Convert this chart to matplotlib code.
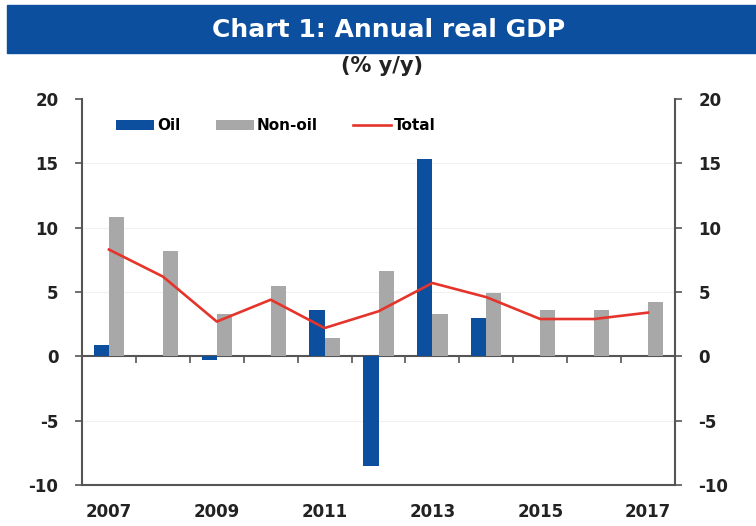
import numpy as np
import matplotlib
matplotlib.use("Agg")
import matplotlib.pyplot as plt
from matplotlib.patches import Rectangle

# data (% y/y)
years = [2007, 2008, 2009, 2010, 2011, 2012, 2013, 2014, 2015, 2016, 2017]
oil = [0.9, 0.0, -0.3, 0.0, 3.6, -8.5, 15.3, 3.0, 0.0, 0.0, 0.0]
non_oil = [10.8, 8.2, 3.3, 5.5, 1.4, 6.6, 3.3, 4.9, 3.6, 3.6, 4.2]
total = [8.3, 6.2, 2.7, 4.4, 2.2, 3.5, 5.7, 4.6, 2.9, 2.9, 3.4]
ylim = (-10, 20)
yticks = [-10, -5, 0, 5, 10, 15, 20]

BLUE = "#0b4f9e"
GREY = "#a8a8a8"
RED = "#e5342b"
TXT = "#222222"
SPINE = "#555555"

plt.rcParams["font.family"] = ["DejaVu Sans"]
plt.rcParams["font.weight"] = "bold"
plt.rcParams["axes.unicode_minus"] = False

fig = plt.figure(figsize=(7.56, 5.26), dpi=100)
W, H = 756, 526

# title banner
fig.patches.append(Rectangle((7 / W, 1 - 53 / H), 1 - 7 / W, 48 / H,
                             transform=fig.transFigure, color=BLUE, zorder=0))
fig.text(389 / W, 1 - 30 / H, "Chart 1: Annual real GDP", color="white",
         fontsize=18, fontweight="bold", ha="center", va="center")
fig.text(382 / W, 1 - 66 / H, "(% y/y)", color=TXT, fontsize=15,
         fontweight="bold", ha="center", va="center")

ax = fig.add_axes([82 / W, 1 - 485 / H, (675 - 82) / W, (485 - 99) / H])
x = np.arange(len(years))
w = 0.28
b_oil = ax.bar(x - w / 2, oil, w, color=BLUE, label="Oil", zorder=3)
b_non = ax.bar(x + w / 2, non_oil, w, color=GREY, label="Non-oil", zorder=3)
l_tot, = ax.plot(x, total, color=RED, lw=1.9, label="Total", zorder=4)

ax.set_xlim(-0.5, len(years) - 0.5)
ax.set_ylim(*ylim)
ax.set_yticks(yticks)
for y in yticks:
    if y not in (0, ylim[0], ylim[1]):
        ax.axhline(y, color="#f1f1f1", lw=0.8, zorder=1)

# year labels on every other category, along the bottom spine
ax.set_xticks(x[::2])
ax.set_xticklabels([str(y) for y in years[::2]])
ax.tick_params(axis="x", length=0, pad=13, labelsize=12, labelcolor=TXT)
ax.tick_params(axis="y", direction="out", length=5, width=1.2, color=SPINE,
               labelsize=12, labelcolor=TXT, pad=12, left=True, right=True,
               labelleft=True, labelright=True)

for s in ["left", "right", "bottom"]:
    ax.spines[s].set_color(SPINE)
    ax.spines[s].set_linewidth(1.5)
ax.spines["top"].set_visible(False)

# zero line with category-boundary ticks
zero = ax.secondary_xaxis((0 - ylim[0]) / (ylim[1] - ylim[0]))
zero.set_xticks(x[1:] - 0.5)
zero.set_xticklabels([])
zero.tick_params(direction="out", length=5, width=1.2, color=SPINE)
zero.spines["bottom"].set_color(SPINE)
zero.spines["bottom"].set_linewidth(1.5)

ax.legend([b_oil, b_non, l_tot], ["Oil", "Non-oil", "Total"],
          loc="center left", bbox_to_anchor=(116 / W, 1 - 126 / H),
          bbox_transform=fig.transFigure, ncol=3, frameon=False,
          fontsize=11, handlelength=2.5, handletextpad=0.2,
          columnspacing=2.3, borderpad=0, borderaxespad=0)

fig.savefig("out.png", dpi=100)
